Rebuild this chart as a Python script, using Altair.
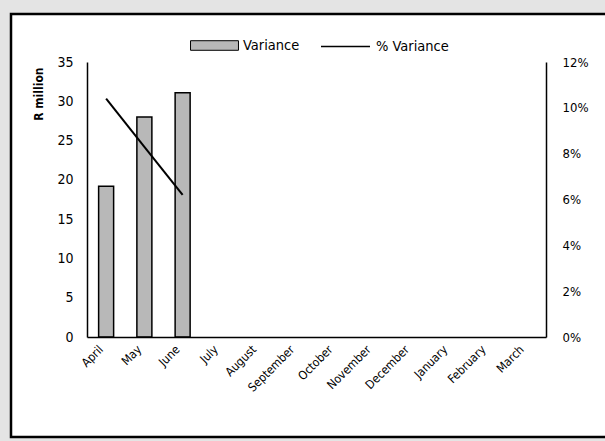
import altair as alt
import pandas as pd

# Monthly variance (R million) and variance as a share, financial year April-March
months = ["April", "May", "June", "July", "August", "September", "October",
          "November", "December", "January", "February", "March"]
reported = ["April", "May", "June"]
variance = [19.2, 28.0, 31.1]
pct_variance = [0.104, 0.083, 0.062]

FONT = "DejaVu Sans Condensed, Liberation Sans, sans-serif"

df = pd.DataFrame({
    "month": reported,
    "variance": variance,
    "pct": pct_variance,
    "bar_series": ["Variance"] * len(reported),
    "line_series": ["% Variance"] * len(reported),
})

x_enc = alt.X(
    "month:N",
    scale=alt.Scale(domain=months),
    sort=months,
    axis=alt.Axis(
        title=None, labelAngle=-45, labelAlign="right", labelBaseline="middle",
        labelPadding=10, labelOffset=-5, ticks=False, domainColor="black",
        domainWidth=1.5, labelFont=FONT, labelFontSize=12, labelColor="black",
        zindex=1,
    ),
)

# Framed panel behind the plot
frame = alt.Chart(pd.DataFrame({"k": [0]})).mark_rect(
    fill="white", stroke="black", strokeWidth=2.5, clip=False
).encode(
    x=alt.value(-76), x2=alt.value(530),
    y=alt.value(-48), y2=alt.value(375),
)

bars = alt.Chart(df).mark_bar(size=15, stroke="black", strokeWidth=1.5).encode(
    x=x_enc,
    y=alt.Y(
        "variance:Q",
        scale=alt.Scale(domain=[0, 35], nice=False),
        axis=alt.Axis(
            title="R million", values=list(range(0, 36, 5)), grid=False,
            ticks=False, labelPadding=14, domainColor="black", domainWidth=1.5,
            labelFont=FONT, labelFontSize=14, labelColor="black", zindex=1,
            titleFont=FONT, titleFontSize=12, titleFontWeight="bold",
            titleColor="black", titleAngle=-90, titleAlign="right",
            titleBaseline="middle", titleX=-49, titleY=5,
        ),
    ),
    fill=alt.Fill(
        "bar_series:N",
        scale=alt.Scale(domain=["Variance"], range=["#b8b8b8"]),
        legend=alt.Legend(
            title=None, orient="none", legendX=103, legendY=-41,
            symbolType="M-1,-0.2H1V0.2H-1Z", symbolSize=2300,
            symbolStrokeColor="black", symbolStrokeWidth=1,
            labelFont=FONT, labelFontSize=14.5, labelColor="black",
            labelOffset=4,
        ),
    ),
)

line = alt.Chart(df).mark_line(color="black", strokeWidth=2).encode(
    x=x_enc,
    y=alt.Y(
        "pct:Q",
        scale=alt.Scale(domain=[0, 0.12], nice=False),
        axis=alt.Axis(
            title=None, orient="right", format=".0%",
            values=[0, 0.02, 0.04, 0.06, 0.08, 0.10, 0.12], grid=False,
            ticks=False, labelPadding=16, domainColor="black", domainWidth=1.5,
            labelFont=FONT, labelFontSize=13, labelColor="black", zindex=1,
        ),
    ),
    stroke=alt.Stroke(
        "line_series:N",
        scale=alt.Scale(domain=["% Variance"], range=["black"]),
        legend=alt.Legend(
            title=None, orient="none", legendX=233, legendY=-41,
            symbolType="stroke", symbolSize=2400, symbolStrokeWidth=1.5,
            labelFont=FONT, labelFontSize=14.5, labelColor="black",
            labelOffset=5,
        ),
    ),
)

chart = (
    alt.layer(frame, bars, line)
    .resolve_scale(y="independent", fill="independent", stroke="independent")
    .resolve_legend(fill="independent", stroke="independent")
    .properties(
        width=459, height=275,
        autosize=alt.AutoSizeParams(type="none"),
        padding={"left": 87, "top": 62, "right": 59, "bottom": 104},
        background="#e4e4e4",
    )
    .configure_view(stroke=None)
)

chart.save("out.html", embed_options={"renderer": "svg", "actions": False})
